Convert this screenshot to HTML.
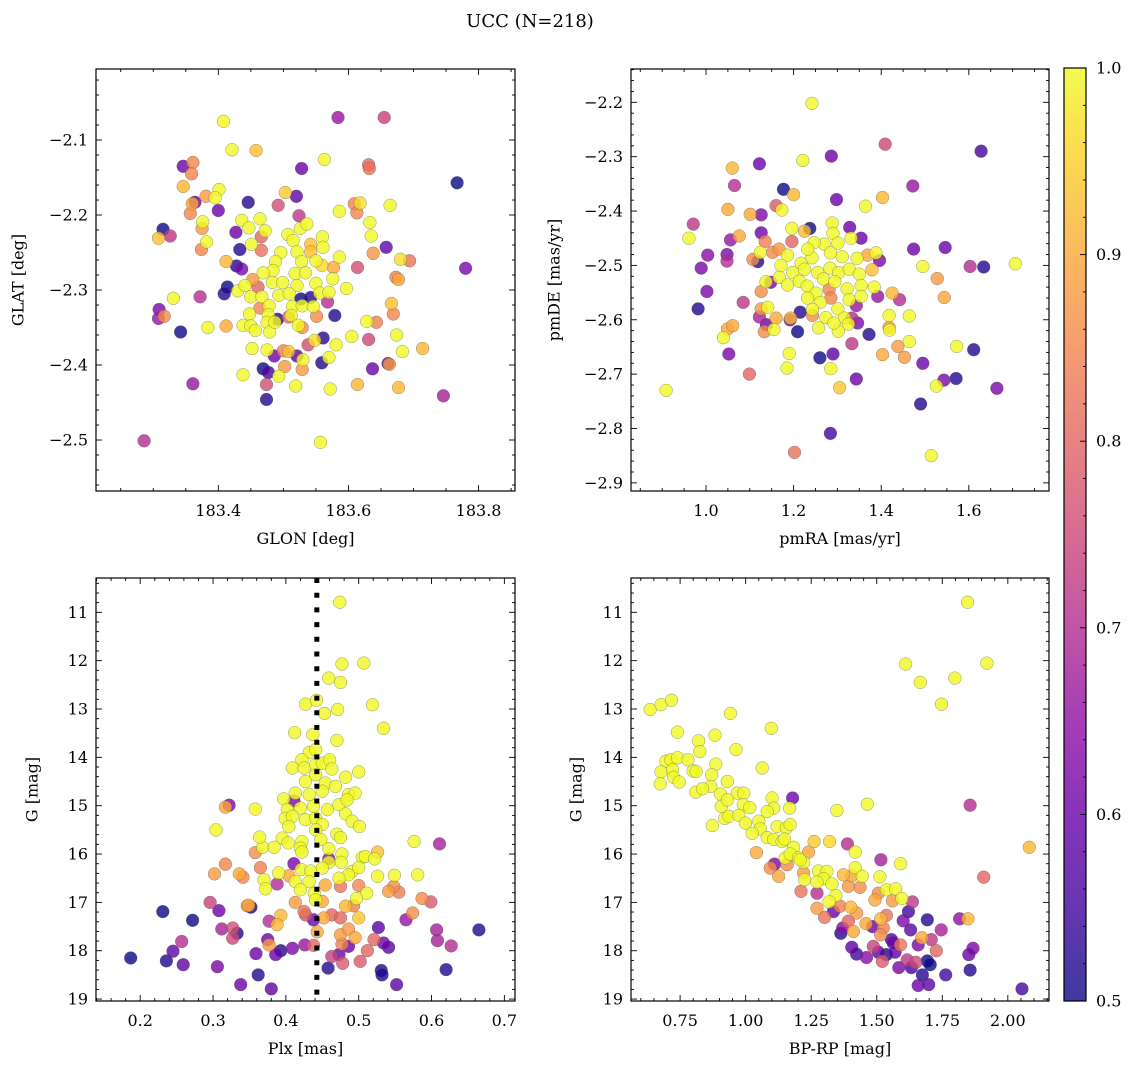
<!DOCTYPE html>
<html>
<head>
<meta charset="utf-8">
<style>
  html, body { margin: 0; padding: 0; background: #ffffff; }
  svg { display: block; font-family: "DejaVu Serif", "Liberation Serif", serif; }
</style>
</head>
<body>
<svg id="fig" width="1136" height="1068" viewBox="0 0 1136 1068" xmlns="http://www.w3.org/2000/svg">
  <defs>
    <linearGradient id="plasmaGrad" x1="0" y1="1" x2="0" y2="0">
      <stop offset="0" stop-color="#0d0887"/>
      <stop offset="0.1" stop-color="#41049d"/>
      <stop offset="0.2" stop-color="#6a00a8"/>
      <stop offset="0.3" stop-color="#8f0da4"/>
      <stop offset="0.4" stop-color="#b12a90"/>
      <stop offset="0.5" stop-color="#cc4778"/>
      <stop offset="0.6" stop-color="#e16462"/>
      <stop offset="0.7" stop-color="#f2844b"/>
      <stop offset="0.8" stop-color="#fca636"/>
      <stop offset="0.9" stop-color="#fcce25"/>
      <stop offset="1" stop-color="#f0f921"/>
    </linearGradient>
  </defs>
  <rect x="0" y="0" width="1136" height="1068" fill="#ffffff"/>
  <text x="530" y="27" font-size="18" text-anchor="middle" fill="#000">UCC (N=218)</text>
</svg>
<script>
// ---------- data: [x, y, membership probability] ----------
const starsGalactic = [
[183.408,-2.075,1],[183.584,-2.070,0.66],[183.655,-2.070,0.74],[183.421,-2.113,1],[183.458,-2.114,0.93],[183.563,-2.126,1],[183.346,-2.135,0.6],[183.361,-2.130,0.85],[183.359,-2.145,0.85],[183.528,-2.138,0.6],
[183.631,-2.133,0.8],[183.632,-2.138,0.82],[183.767,-2.157,0.5],[183.346,-2.162,0.92],[183.401,-2.166,1],[183.395,-2.177,1],[183.381,-2.175,0.88],[183.364,-2.183,0.6],[183.360,-2.185,0.9],[183.357,-2.198,0.85],
[183.400,-2.194,0.6],[183.446,-2.183,0.52],[183.503,-2.170,0.94],[183.520,-2.175,0.58],[183.492,-2.187,0.76],[183.524,-2.201,0.72],[183.586,-2.195,1],[183.609,-2.185,0.85],[183.618,-2.184,0.97],[183.613,-2.197,0.85],
[183.664,-2.187,1],[183.633,-2.210,1],[183.635,-2.228,1],[183.658,-2.243,0.58],[183.638,-2.251,0.87],[183.680,-2.259,0.97],[183.694,-2.261,0.82],[183.780,-2.271,0.62],[183.614,-2.270,0.76],[183.673,-2.283,0.84],
[183.677,-2.286,0.9],[183.315,-2.219,0.5],[183.308,-2.231,0.93],[183.326,-2.228,0.72],[183.376,-2.209,1],[183.375,-2.218,0.88],[183.382,-2.236,1],[183.374,-2.246,0.85],[183.436,-2.207,1],[183.447,-2.217,1],
[183.464,-2.205,1],[183.472,-2.221,1],[183.466,-2.229,0.8],[183.427,-2.223,0.6],[183.433,-2.246,0.52],[183.451,-2.239,1],[183.466,-2.247,0.82],[183.412,-2.262,0.92],[183.428,-2.268,0.52],[183.436,-2.272,0.62],
[183.453,-2.286,0.88],[183.414,-2.296,0.5],[183.409,-2.305,0.52],[183.430,-2.301,1],[183.441,-2.294,1],[183.461,-2.296,0.8],[183.507,-2.226,1],[183.515,-2.234,1],[183.526,-2.218,1],[183.536,-2.212,1],
[183.560,-2.229,1],[183.561,-2.243,1],[183.542,-2.239,0.93],[183.496,-2.250,1],[183.521,-2.249,1],[183.528,-2.262,1],[183.542,-2.249,0.93],[183.550,-2.261,1],[183.559,-2.267,0.96],[183.577,-2.270,0.9],
[183.586,-2.256,1],[183.576,-2.285,1],[183.597,-2.298,1],[183.488,-2.262,1],[183.484,-2.274,1],[183.469,-2.277,1],[183.483,-2.290,1],[183.499,-2.290,1],[183.518,-2.278,1],[183.534,-2.277,1],
[183.550,-2.291,1],[183.521,-2.294,1],[183.450,-2.309,1],[183.467,-2.309,1],[183.478,-2.321,1],[183.493,-2.307,1],[183.509,-2.305,1],[183.527,-2.312,0.5],[183.542,-2.310,0.52],[183.556,-2.304,1],
[183.570,-2.303,1],[183.568,-2.316,0.7],[183.448,-2.332,1],[183.464,-2.324,0.85],[183.477,-2.333,1],[183.491,-2.339,0.52],[183.508,-2.336,0.8],[183.514,-2.322,1],[183.529,-2.321,1],[183.546,-2.322,1],
[183.551,-2.335,0.86],[183.579,-2.334,0.52],[183.438,-2.347,1],[183.450,-2.348,1],[183.457,-2.354,1],[183.475,-2.343,1],[183.479,-2.356,1],[183.487,-2.343,1],[183.512,-2.334,1],[183.523,-2.347,1],
[183.529,-2.350,0.86],[183.331,-2.311,1],[183.372,-2.309,0.7],[183.309,-2.326,0.62],[183.308,-2.338,0.66],[183.317,-2.335,0.86],[183.342,-2.356,0.5],[183.384,-2.350,1],[183.412,-2.348,0.9],[183.628,-2.342,1],
[183.643,-2.343,0.84],[183.666,-2.318,0.93],[183.669,-2.332,0.85],[183.631,-2.366,0.75],[183.605,-2.362,1],[183.581,-2.373,1],[183.674,-2.360,1],[183.683,-2.382,1],[183.714,-2.378,0.92],[183.561,-2.364,0.52],
[183.548,-2.367,0.97],[183.538,-2.373,0.76],[183.452,-2.378,1],[183.475,-2.380,1],[183.486,-2.388,0.6],[183.500,-2.381,0.84],[183.508,-2.382,0.93],[183.521,-2.388,0.58],[183.530,-2.393,1],[183.529,-2.406,0.88],
[183.502,-2.402,0.88],[183.559,-2.397,0.52],[183.570,-2.390,1],[183.637,-2.405,0.6],[183.661,-2.398,0.58],[183.663,-2.399,0.88],[183.469,-2.405,0.5],[183.477,-2.410,0.56],[183.493,-2.415,1],[183.438,-2.413,1],
[183.474,-2.426,0.76],[183.519,-2.428,1],[183.572,-2.432,1],[183.614,-2.426,0.92],[183.677,-2.430,0.92],[183.361,-2.425,0.66],[183.474,-2.446,0.52],[183.746,-2.441,0.68],[183.286,-2.501,0.7],[183.557,-2.503,1]
];
const starsPM = [
[1.242,-2.202,1],[1.409,-2.277,0.75],[1.628,-2.290,0.55],[1.286,-2.299,0.6],[1.221,-2.307,1],[1.122,-2.313,0.6],[1.060,-2.321,0.92],[1.065,-2.353,0.7],[1.177,-2.360,0.5],[1.200,-2.370,0.92],
[1.472,-2.354,0.66],[1.298,-2.379,0.6],[1.403,-2.375,0.92],[1.364,-2.391,1],[1.160,-2.390,0.78],[1.173,-2.398,1],[1.050,-2.397,0.9],[1.101,-2.406,0.9],[1.126,-2.407,0.63],[0.971,-2.424,0.72],
[0.961,-2.450,1],[1.056,-2.453,0.66],[1.076,-2.446,0.9],[1.126,-2.440,0.6],[1.135,-2.456,0.84],[1.237,-2.432,0.5],[1.196,-2.432,1],[1.225,-2.437,0.92],[1.288,-2.422,1],[1.290,-2.441,1],
[1.328,-2.430,0.6],[1.354,-2.450,0.6],[1.331,-2.450,1],[1.004,-2.481,0.64],[0.989,-2.505,0.62],[1.048,-2.480,0.62],[1.048,-2.492,0.7],[1.002,-2.548,0.62],[0.982,-2.580,0.52],[1.085,-2.568,0.72],
[1.107,-2.489,0.86],[1.118,-2.493,0.52],[1.124,-2.476,1],[1.152,-2.476,0.86],[1.167,-2.470,0.88],[1.196,-2.456,0.8],[1.474,-2.470,0.6],[1.546,-2.467,0.6],[1.495,-2.502,1],[1.603,-2.502,0.7],
[1.634,-2.503,0.52],[1.706,-2.497,1],[1.528,-2.524,0.88],[1.544,-2.559,0.9],[1.388,-2.477,1],[1.369,-2.481,0.9],[1.396,-2.491,0.62],[1.379,-2.508,0.93],[1.345,-2.487,1],
[1.186,-2.481,1],[1.217,-2.496,1],[1.242,-2.486,1],[1.270,-2.461,1],[1.301,-2.459,1],[1.284,-2.477,1],[1.311,-2.484,1],[1.247,-2.458,1],[1.232,-2.470,1],[1.171,-2.500,1],
[1.198,-2.513,1],[1.225,-2.507,1],[1.255,-2.513,1],[1.283,-2.505,1],[1.303,-2.513,1],[1.327,-2.507,1],[1.350,-2.516,1],[1.167,-2.522,1],[1.186,-2.536,1],[1.213,-2.529,1],
[1.231,-2.538,1],[1.268,-2.525,1],[1.294,-2.530,1],[1.322,-2.543,1],[1.354,-2.537,1],[1.251,-2.551,1],[1.232,-2.560,1],[1.281,-2.544,0.85],[1.285,-2.560,0.85],[1.327,-2.563,1],
[1.354,-2.557,1],[1.384,-2.540,1],[1.261,-2.568,1],[1.137,-2.530,1],[1.126,-2.548,0.86],[1.148,-2.531,0.62],[1.392,-2.557,0.66],[1.425,-2.551,0.92],[1.442,-2.563,0.7],[1.343,-2.574,0.66],
[1.122,-2.595,0.68],[1.126,-2.580,0.88],[1.141,-2.577,1],[1.160,-2.597,0.9],[1.193,-2.597,0.92],[1.192,-2.600,0.6],[1.215,-2.586,0.52],[1.209,-2.622,0.5],[1.243,-2.581,1],[1.243,-2.592,0.86],
[1.274,-2.596,1],[1.301,-2.580,1],[1.316,-2.597,1],[1.333,-2.597,0.7],[1.346,-2.606,0.62],[1.325,-2.608,1],[1.302,-2.621,1],[1.257,-2.615,1],[1.292,-2.606,1],[1.138,-2.609,0.6],
[1.133,-2.622,0.86],[1.155,-2.618,1],[1.049,-2.617,0.9],[1.061,-2.611,0.9],[1.040,-2.633,1],[1.372,-2.627,0.52],[1.418,-2.592,1],[1.464,-2.593,1],[1.418,-2.614,0.88],[1.419,-2.619,1],
[1.438,-2.649,0.88],[1.464,-2.640,1],[1.333,-2.644,0.72],[1.572,-2.649,1],[1.611,-2.655,0.52],[1.052,-2.663,0.62],[1.190,-2.662,1],[1.185,-2.689,1],[1.260,-2.670,0.5],[1.290,-2.663,0.58],
[1.285,-2.690,1],[1.403,-2.664,0.9],[1.453,-2.669,0.88],[1.495,-2.680,0.6],[1.099,-2.700,0.8],[1.305,-2.725,0.94],[1.343,-2.709,0.6],[1.526,-2.722,1],[1.543,-2.711,0.62],[1.571,-2.708,0.52],
[1.664,-2.726,0.62],[1.490,-2.755,0.52],[0.909,-2.730,1],[1.284,-2.809,0.55],[1.202,-2.844,0.82],[1.514,-2.850,1]
];
const starsPlx = [
[0.474,10.79,1],[0.477,12.07,1],[0.507,12.05,1],[0.459,12.36,1],[0.475,12.45,1],[0.427,12.90,1],[0.442,12.82,1],[0.453,13.09,1],[0.471,13.01,1],[0.519,12.91,1],
[0.534,13.40,1],[0.412,13.49,1],[0.437,13.53,1],[0.470,13.65,1],[0.432,13.90,1],[0.441,13.84,1],[0.422,14.05,1],[0.409,14.22,1],[0.425,14.22,1],[0.441,14.15,1],
[0.450,14.12,1],[0.460,14.05,1],[0.463,14.24,1],[0.500,14.30,1],[0.427,14.50,1],[0.441,14.36,1],[0.454,14.53,1],[0.468,14.60,1],[0.482,14.41,1],[0.413,14.74,1],
[0.432,14.77,1],[0.450,14.70,1],[0.486,14.77,1],[0.495,14.74,1],[0.397,14.86,1],[0.411,14.90,0.62],[0.402,15.08,1],[0.420,15.05,1],[0.438,15.01,1],[0.457,15.08,1],
[0.473,14.98,1],[0.484,14.88,1],[0.399,15.26,1],[0.409,15.22,1],[0.427,15.29,1],[0.441,15.26,1],[0.450,15.39,1],[0.482,15.17,1],[0.491,15.32,1],[0.501,15.43,1],
[0.404,15.43,1],[0.441,15.50,1],[0.470,15.59,1],[0.475,15.66,1],[0.395,15.67,1],[0.403,15.77,1],[0.422,15.74,1],[0.448,15.70,1],[0.420,15.88,1],[0.368,15.86,1],
[0.384,15.86,1],[0.364,15.65,1],[0.459,15.89,1],[0.477,16.00,1],[0.476,16.17,1],[0.459,16.17,1],[0.459,16.10,0.65],[0.505,16.07,1],[0.509,16.05,1],[0.522,16.10,1],
[0.526,15.96,0.93],[0.422,15.96,1],[0.411,16.20,0.62],[0.421,16.32,1],[0.434,16.35,1],[0.450,16.29,1],[0.491,16.36,1],[0.500,16.28,1],[0.486,16.43,1],[0.473,16.50,1],
[0.390,16.39,1],[0.404,16.45,0.9],[0.413,16.57,1],[0.432,16.57,1],[0.454,16.64,0.9],[0.475,16.67,0.82],[0.500,16.65,0.85],[0.511,16.81,1],[0.526,16.46,1],[0.549,16.44,1],
[0.581,16.43,1],[0.576,15.74,1],[0.370,16.53,1],[0.372,16.72,1],[0.388,16.62,0.7],[0.420,16.74,1],[0.439,16.81,1],[0.441,16.95,1],[0.450,16.98,0.9],[0.497,16.92,1],
[0.358,15.97,0.86],[0.365,16.28,0.84],[0.317,16.21,0.85],[0.302,16.41,0.88],[0.336,16.41,0.9],[0.341,16.48,0.85],[0.304,15.50,1],[0.317,15.03,0.9],[0.322,14.99,0.62],[0.358,15.07,1],
[0.611,15.79,0.68],[0.541,16.77,0.88],[0.548,16.67,0.86],[0.555,16.79,0.84],[0.587,16.92,0.86],[0.599,16.99,0.78],[0.296,17.00,0.74],[0.347,17.07,0.85],[0.352,17.10,0.5],[0.349,17.06,0.9],
[0.308,17.17,0.6],[0.231,17.19,0.5],[0.272,17.37,0.5],[0.393,17.27,0.92],[0.388,17.46,0.92],[0.377,17.39,0.7],[0.413,17.00,0.88],[0.425,17.19,0.82],[0.427,17.26,0.78],[0.438,17.36,0.6],
[0.452,17.32,0.9],[0.463,17.26,0.8],[0.475,17.32,0.8],[0.482,17.08,0.92],[0.493,17.07,0.84],[0.500,17.32,0.94],[0.312,17.55,0.68],[0.327,17.53,0.76],[0.333,17.64,0.52],[0.327,17.74,0.75],
[0.257,17.81,0.7],[0.245,18.01,0.58],[0.236,18.21,0.52],[0.187,18.15,0.5],[0.259,18.29,0.58],[0.306,18.33,0.62],[0.375,17.77,0.6],[0.377,17.88,0.88],[0.359,18.06,0.6],[0.386,18.08,0.6],
[0.393,18.00,0.52],[0.409,17.95,0.62],[0.426,17.88,0.66],[0.438,17.89,0.8],[0.443,17.61,0.9],[0.475,17.67,0.88],[0.486,17.55,0.88],[0.495,17.73,0.9],[0.477,17.86,0.84],[0.486,17.91,0.6],
[0.521,17.77,0.8],[0.527,17.52,0.58],[0.534,17.84,0.6],[0.541,17.93,0.58],[0.463,18.12,0.74],[0.473,18.08,0.6],[0.478,18.26,0.78],[0.502,18.22,0.78],[0.512,18.00,0.8],[0.458,18.36,0.52],
[0.362,18.50,0.52],[0.338,18.70,0.6],[0.380,18.79,0.58],[0.531,18.41,0.52],[0.532,18.50,0.52],[0.552,18.70,0.58],[0.620,18.39,0.52],[0.565,17.36,0.66],[0.574,17.22,0.86],[0.607,17.57,0.68],
[0.608,17.79,0.68],[0.627,17.90,0.7],[0.665,17.57,0.52]
];
const starsCMD = [
[1.846,10.79,1],[1.610,12.07,1],[1.920,12.05,1],[1.666,12.45,1],[1.798,12.36,1],[1.747,12.90,1],[0.636,13.01,1],[0.677,12.91,1],[0.717,12.82,1],[0.942,13.09,1],
[1.098,13.40,1],[0.740,13.48,1],[0.820,13.66,1],[0.883,13.54,1],[0.825,13.88,1],[0.963,13.84,1],[0.696,14.08,1],[0.715,14.05,1],[0.740,14.01,1],[0.780,14.05,1],
[0.677,14.30,1],[0.721,14.26,1],[0.799,14.28,1],[0.811,14.29,1],[0.886,14.14,1],[1.063,14.22,1],[0.674,14.55,1],[0.725,14.41,1],[0.746,14.51,1],[0.870,14.36,1],
[0.867,14.60,1],[0.930,14.50,1],[0.810,14.72,1],[0.835,14.65,1],[0.904,14.76,1],[0.968,14.74,1],[0.993,14.74,1],[0.907,15.01,1],[0.930,14.88,1],[0.991,14.98,1],
[1.016,15.04,1],[1.101,14.84,1],[1.107,15.05,1],[1.168,15.05,1],[1.179,14.84,0.6],[1.082,15.12,1],[1.348,15.10,1],[1.464,14.97,1],[0.873,15.41,1],[0.920,15.26,1],
[0.936,15.22,1],[0.974,15.20,1],[0.999,15.36,1],[1.050,15.32,1],[1.056,15.48,1],[1.025,15.57,1],[1.120,15.43,1],[1.155,15.46,1],[1.170,15.39,1],[1.082,15.66,1],
[1.107,15.70,1],[1.139,15.74,1],[1.148,15.69,1],[1.183,15.86,1],[1.221,16.17,1],[1.261,15.74,0.94],[1.320,15.74,0.96],[1.388,15.79,0.7],[1.041,15.97,0.9],[1.151,16.08,1],
[1.170,16.00,1],[1.240,15.96,0.9],[1.202,16.08,1],[1.208,16.12,1],[1.418,15.96,1],[1.516,16.12,0.68],[1.591,16.20,1],[1.094,16.29,0.86],[1.110,16.21,0.62],[1.126,16.46,0.9],
[1.158,16.22,0.86],[1.221,16.39,0.88],[1.225,16.53,1],[1.278,16.35,1],[1.310,16.36,1],[1.297,16.51,1],[1.329,16.62,1],[1.272,16.58,1],[1.373,16.43,0.92],[1.405,16.45,0.9],
[1.418,16.28,1],[1.445,16.46,1],[1.512,16.47,1],[1.392,16.67,0.88],[1.436,16.69,0.86],[1.211,16.77,0.82],[1.272,16.81,0.7],[1.344,16.86,1],[1.318,16.99,1],[1.493,16.95,0.9],
[1.506,16.81,0.86],[1.537,16.74,1],[1.572,16.72,1],[1.560,16.97,0.88],[1.596,16.92,1],[1.636,16.99,0.72],[1.272,17.12,0.88],[1.301,17.31,0.82],[1.335,17.19,0.6],[1.360,17.08,0.84],
[1.401,17.10,0.92],[1.423,17.22,0.88],[1.392,17.39,0.8],[1.370,17.53,0.64],[1.363,17.64,0.52],[1.411,17.60,0.9],[1.459,17.44,0.9],[1.484,17.50,0.6],[1.515,17.34,0.92],[1.537,17.27,0.82],
[1.515,17.67,0.86],[1.525,17.53,0.84],[1.621,17.19,0.55],[1.601,17.38,0.62],[1.629,17.57,0.58],[1.693,17.36,0.52],[1.746,17.57,0.68],[1.816,17.34,0.65],[1.848,17.34,0.92],[1.405,17.93,0.58],
[1.423,18.07,0.55],[1.461,18.14,0.64],[1.487,17.91,0.74],[1.506,18.03,0.58],[1.521,18.22,0.78],[1.537,18.08,0.52],[1.556,17.77,0.55],[1.563,17.84,0.6],[1.591,17.88,0.82],[1.570,18.03,0.58],
[1.658,17.88,0.62],[1.672,17.73,0.9],[1.708,17.77,0.72],[1.727,18.00,0.8],[1.616,18.19,0.72],[1.649,18.24,0.75],[1.584,18.35,0.62],[1.632,18.35,0.55],[1.693,18.21,0.5],[1.704,18.29,0.5],
[1.674,18.50,0.52],[1.763,18.50,0.55],[1.658,18.72,0.6],[1.698,18.70,0.58],[1.856,18.40,0.52],[1.851,18.08,0.6],[1.867,17.95,0.62],[2.054,18.79,0.55],[1.856,14.99,0.7],[1.908,16.48,0.8],
[2.082,15.86,0.92]
];
const plxMedian = [0.4425];

const ticksGLON = [183.4, 183.6, 183.8];
const ticksGLAT = [-2.1, -2.2, -2.3, -2.4, -2.5];
const ticksPMRA = [1.0, 1.2, 1.4, 1.6];
const ticksPMDE = [-2.2, -2.3, -2.4, -2.5, -2.6, -2.7, -2.8, -2.9];
const ticksPlx = [0.2, 0.3, 0.4, 0.5, 0.6, 0.7];
const ticksG = [11, 12, 13, 14, 15, 16, 17, 18, 19];
const ticksBPRP = [0.75, 1.0, 1.25, 1.5, 1.75, 2.0];
const ticksCbar = [0.5, 0.6, 0.7, 0.8, 0.9, 1.0];

// ---------- rendering ----------
const NS = 'http://www.w3.org/2000/svg';
const svg = document.getElementById('fig');
const plasma = ['#0d0887','#41049d','#6a00a8','#8f0da4','#b12a90','#cc4778','#e16462','#f2844b','#fca636','#fcce25','#f0f921'];
function hex2rgb(h){return [parseInt(h.slice(1,3),16),parseInt(h.slice(3,5),16),parseInt(h.slice(5,7),16)];}
function cmap(p){
  let t = Math.max(0, Math.min(1, (p - 0.5) / 0.5)) * 10;
  const i = Math.min(9, Math.floor(t)); const f = t - i;
  const a = hex2rgb(plasma[i]), b = hex2rgb(plasma[i+1]);
  return 'rgb(' + a.map((v,k)=>Math.round(v + (b[k]-v)*f)).join(',') + ')';
}
function mk(tag, attrs, parent){
  const e = document.createElementNS(NS, tag);
  for (const k in attrs) e.setAttribute(k, attrs[k]);
  (parent || svg).appendChild(e);
  return e;
}
function fmt(v, d){ const s = v.toFixed(d); return s.startsWith('-') ? '\u2212' + s.slice(1) : s; }

const FS = 16;
const panels = [
  {id:'galactic', box:{l:96,t:69,r:515,b:491}, xr:[183.212,183.856], yr:[-2.568,-2.0053], inv:false,
   data:starsGalactic, xt:ticksGLON, yt:ticksGLAT, xd:1, yd:1, xm:0.05, ym:0.02,
   xl:'GLON [deg]', yl:'GLAT [deg]', ylx:18},
  {id:'proper-motion', box:{l:631,t:69,r:1049,b:491}, xr:[0.8288,1.783], yr:[-2.915,-2.1387], inv:false,
   data:starsPM, xt:ticksPMRA, yt:ticksPMDE, xd:1, yd:1, xm:0.05, ym:0.02,
   xl:'pmRA [mas/yr]', yl:'pmDE [mas/yr]', ylx:554},
  {id:'parallax', box:{l:96,t:578,r:515,b:1001}, xr:[0.1393,0.7146], yr:[10.29,19.04], inv:true,
   data:starsPlx, xt:ticksPlx, yt:ticksG, xd:1, yd:0, xm:0.02, ym:0.2,
   xl:'Plx [mas]', yl:'G [mag]', ylx:32},
  {id:'cmd', box:{l:631,t:578,r:1049,b:1001}, xr:[0.5627,2.157], yr:[10.29,19.04], inv:true,
   data:starsCMD, xt:ticksBPRP, yt:ticksG, xd:2, yd:0, xm:0.05, ym:0.2,
   xl:'BP-RP [mag]', yl:'G [mag]', ylx:576}
];

panels.forEach(P => {
  const B = P.box;
  const sx = v => B.l + (v - P.xr[0]) / (P.xr[1] - P.xr[0]) * (B.r - B.l);
  const sy = v => P.inv ? B.t + (v - P.yr[0]) / (P.yr[1] - P.yr[0]) * (B.b - B.t)
                        : B.b - (v - P.yr[0]) / (P.yr[1] - P.yr[0]) * (B.b - B.t);
  const g = mk('g', {});
  
  

  const clipId = 'clip-' + P.id;
  const cp = mk('clipPath', {id: clipId}, g);
  mk('rect', {x:B.l, y:B.t, width:B.r-B.l, height:B.b-B.t}, cp);

  const pts = mk('g', {'clip-path':'url(#' + clipId + ')'}, g);
  
  
  const sorted = P.data.slice().sort((a,b)=>a[2]-b[2]);
  sorted.forEach(d => {
    const c = mk('circle', {cx:sx(d[0]).toFixed(1), cy:sy(d[1]).toFixed(1), r:6.4, fill:cmap(d[2]),
      'fill-opacity':0.8, stroke:'#555', 'stroke-width':0.5, 'stroke-opacity':0.6}, pts);
    
    
  });

  if (P.id === 'parallax') {
    plxMedian.forEach(v => {
      const ln = mk('line', {x1:sx(v), x2:sx(v), y1:B.t, y2:B.b, stroke:'#000', 'stroke-width':5, 'stroke-dasharray':'5 9.7'}, g);
      
      
    });
  }

  const tk = mk('g', {stroke:'#000', 'stroke-width':0.9}, g);
  
  
  const x0 = Math.ceil(P.xr[0] / P.xm - 1e-6), x1 = Math.floor(P.xr[1] / P.xm + 1e-6);
  for (let k = x0; k <= x1; k++) {
    const v = k * P.xm, X = sx(v);
    const major = P.xt.some(t => Math.abs(t - v) < P.xm / 10);
    const L = major ? 6 : 3;
    mk('line', {x1:X, x2:X, y1:B.b, y2:B.b - L}, tk);
    mk('line', {x1:X, x2:X, y1:B.t, y2:B.t + L}, tk);
  }
  const y0 = Math.ceil(Math.min(P.yr[0],P.yr[1]) / P.ym - 1e-6), y1 = Math.floor(Math.max(P.yr[0],P.yr[1]) / P.ym + 1e-6);
  for (let k = y0; k <= y1; k++) {
    const v = k * P.ym, Y = sy(v);
    const major = P.yt.some(t => Math.abs(t - v) < P.ym / 10);
    const L = major ? 6 : 3;
    mk('line', {x1:B.l, x2:B.l + L, y1:Y, y2:Y}, tk);
    mk('line', {x1:B.r, x2:B.r - L, y1:Y, y2:Y}, tk);
  }
  const fr = mk('rect', {x:B.l, y:B.t, width:B.r-B.l, height:B.b-B.t, fill:'none', stroke:'#000', 'stroke-width':1.2}, g);
  
  

  P.xt.forEach(v => {
    const t = mk('text', {x:sx(v), y:B.b + 25, 'font-size':FS, 'text-anchor':'middle', fill:'#000'}, g);
    t.textContent = fmt(v, P.xd);
    
    
  });
  P.yt.forEach(v => {
    const t = mk('text', {x:B.l - 8, y:sy(v) + 5.5, 'font-size':FS, 'text-anchor':'end', fill:'#000'}, g);
    t.textContent = fmt(v, P.yd);
    
    
  });
  const xt = mk('text', {x:(B.l + B.r) / 2, y:B.b + 53, 'font-size':FS, 'text-anchor':'middle', fill:'#000'}, g);
  xt.textContent = P.xl;
  
  
  const yc = (B.t + B.b) / 2;
  const yt = mk('text', {x:P.ylx, y:yc, 'font-size':FS, 'text-anchor':'middle', fill:'#000',
    transform:'rotate(-90 ' + P.ylx + ' ' + yc + ')', 'dominant-baseline':'central'}, g);
  yt.textContent = P.yl;
  
  
});

// colorbar
(function(){
  const C = {l:1064, t:68, r:1086, b:1001};
  const cy = v => C.b - (v - 0.5) / 0.5 * (C.b - C.t);
  const g = mk('g', {});
  
  
  const r = mk('rect', {x:C.l, y:C.t, width:C.r-C.l, height:C.b-C.t, fill:'url(#plasmaGrad)', 'fill-opacity':0.8}, g);
  
  
  mk('rect', {x:C.l, y:C.t, width:C.r-C.l, height:C.b-C.t, fill:'none', stroke:'#000', 'stroke-width':1.2}, g);
  for (let k = 25; k <= 50; k++) {
    const v = k * 0.02, Y = cy(v);
    const major = ticksCbar.some(t => Math.abs(t - v) < 0.002);
    mk('line', {x1:C.r, x2:C.r - (major ? 6 : 3), y1:Y, y2:Y, stroke:'#000', 'stroke-width':0.9}, g);
  }
  ticksCbar.forEach(v => {
    const t = mk('text', {x:C.r + 10, y:cy(v) + 5.5, 'font-size':FS, 'text-anchor':'start', fill:'#000'}, g);
    t.textContent = v.toFixed(1);
    
    
  });
})();
</script>
</body>
</html>
